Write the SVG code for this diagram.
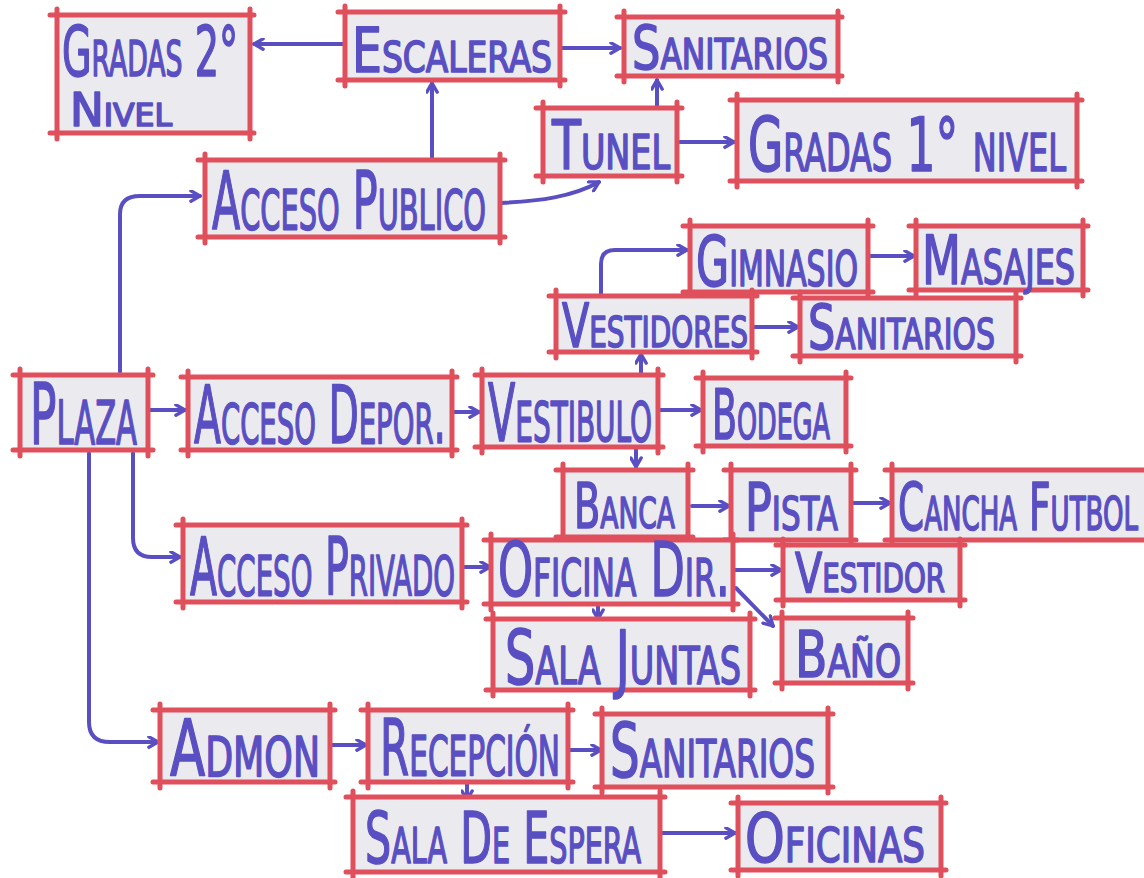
<svg xmlns="http://www.w3.org/2000/svg" width="1144" height="878" viewBox="0 0 1144 878">
<style>
.bg{fill:#ffffff}
.box{fill:#ebebef}
.edge{fill:none;stroke:#e0505c;stroke-width:5;stroke-linecap:round}
.t{font-family:"Liberation Sans Narrow","DejaVu Sans Condensed","Liberation Sans",sans-serif;font-variant:small-caps;fill:#5a4fc2;stroke:#5a4fc2;stroke-width:1.6;stroke-linejoin:round}
.c{fill:none;stroke:#5a4fc2;stroke-width:4;stroke-linecap:round;stroke-linejoin:round}
</style>
<defs>
<marker id="ah" viewBox="0 0 10 10" refX="8.5" refY="5" markerWidth="13" markerHeight="13" markerUnits="userSpaceOnUse" orient="auto">
<path d="M1.5,1 L8.5,5 L1.5,9" fill="none" stroke="#5a4fc2" stroke-width="2.6" stroke-linecap="round" stroke-linejoin="round"/>
</marker>
</defs>
<rect class="bg" x="0" y="0" width="1144" height="878"/>

<g id="connectors">
<path class="c" marker-end="url(#ah)" d="M343,44 H254"/>
<path class="c" marker-end="url(#ah)" d="M562,48 H620"/>
<path class="c" marker-end="url(#ah)" d="M432,158 V83"/>
<path class="c" marker-end="url(#ah)" d="M657,106 V80"/>
<path class="c" marker-end="url(#ah)" d="M680,142 H734"/>
<path class="c" marker-end="url(#ah)" d="M501,203 C540,201 572,197 599,182"/>
<path class="c" marker-end="url(#ah)" d="M120,372 V214 Q120,196 140,196 H200"/>
<path class="c" marker-end="url(#ah)" d="M150,410 H185"/>
<path class="c" marker-end="url(#ah)" d="M454,412 H479"/>
<path class="c" marker-end="url(#ah)" d="M641,373 V354"/>
<path class="c" marker-end="url(#ah)" d="M601,294 V264 Q601,250 615,250 H687"/>
<path class="c" marker-end="url(#ah)" d="M870,256 H914"/>
<path class="c" marker-end="url(#ah)" d="M754,327 H798"/>
<path class="c" marker-end="url(#ah)" d="M659,410 H701"/>
<path class="c" marker-end="url(#ah)" d="M636,447 V467"/>
<path class="c" marker-end="url(#ah)" d="M692,506 H729"/>
<path class="c" marker-end="url(#ah)" d="M853,503 H890"/>
<path class="c" marker-end="url(#ah)" d="M133,453 V538 Q133,557 152,557 H180"/>
<path class="c" marker-end="url(#ah)" d="M463,567 H490"/>
<path class="c" marker-end="url(#ah)" d="M734,570 H781"/>
<path class="c" marker-end="url(#ah)" d="M736,588 L773,626"/>
<path class="c" marker-end="url(#ah)" d="M598,605 V619"/>
<path class="c" marker-end="url(#ah)" d="M89,453 V722 Q89,742 110,742 H158"/>
<path class="c" marker-end="url(#ah)" d="M331,745 H366"/>
<path class="c" marker-end="url(#ah)" d="M569,750 H601"/>
<path class="c" marker-end="url(#ah)" d="M467,783 V800"/>
<path class="c" marker-end="url(#ah)" d="M661,833 H735"/>
</g>

<g id="gradas2">
<rect class="box" x="57" y="15" width="193" height="118"/>
<path class="edge" d="M50,15 H254 M50,133 H254 M57,9 V139 M250,9 V139"/>
<text class="t" x="62" y="76" font-size="70" textLength="176" lengthAdjust="spacingAndGlyphs">Gradas 2°</text>
<text class="t" x="70" y="126" font-size="46" textLength="102" lengthAdjust="spacingAndGlyphs">Nivel</text>
</g>
<g id="escaleras">
<rect class="box" x="345" y="12" width="215" height="68"/>
<path class="edge" d="M338,12 H565 M338,80 H565 M345,6 V86 M560,6 V86"/>
<text class="t" x="352" y="72" font-size="62" textLength="200" lengthAdjust="spacingAndGlyphs">Escaleras</text>
</g>
<g id="sanitarios1">
<rect class="box" x="624" y="17" width="214" height="59"/>
<path class="edge" d="M617,17 H842 M617,76 H842 M624,11 V82 M838,11 V82"/>
<text class="t" x="632" y="69" font-size="60" textLength="196" lengthAdjust="spacingAndGlyphs">Sanitarios</text>
</g>
<g id="tunel">
<rect class="box" x="543" y="108" width="134" height="68"/>
<path class="edge" d="M536,108 H682 M536,176 H682 M543,102 V182 M677,102 V182"/>
<text class="t" x="552" y="169" font-size="68" textLength="118" lengthAdjust="spacingAndGlyphs">Tunel</text>
</g>
<g id="gradas1">
<rect class="box" x="737" y="100" width="340" height="81"/>
<path class="edge" d="M730,100 H1082 M730,181 H1082 M737,94 V187 M1077,94 V187"/>
<text class="t" x="748" y="171" font-size="74" textLength="318" lengthAdjust="spacingAndGlyphs">Gradas 1° nivel</text>
</g>
<g id="accesoPublico">
<rect class="box" x="205" y="160" width="295" height="77"/>
<path class="edge" d="M198,160 H505 M198,237 H505 M205,154 V243 M500,154 V243"/>
<text class="t" x="212" y="229" font-size="80" textLength="274" lengthAdjust="spacingAndGlyphs">Acceso Publico</text>
</g>
<g id="gimnasio">
<rect class="box" x="690" y="226" width="178" height="66"/>
<path class="edge" d="M683,226 H873 M683,292 H873 M690,220 V298 M868,220 V298"/>
<text class="t" x="696" y="286" font-size="70" textLength="162" lengthAdjust="spacingAndGlyphs">Gimnasio</text>
</g>
<g id="masajes">
<rect class="box" x="916" y="226" width="167" height="64"/>
<path class="edge" d="M909,226 H1088 M909,290 H1088 M916,220 V296 M1083,220 V296"/>
<text class="t" x="922" y="284" font-size="68" textLength="153" lengthAdjust="spacingAndGlyphs">Masajes</text>
</g>
<g id="vestidores">
<rect class="box" x="556" y="296" width="196" height="56"/>
<path class="edge" d="M549,296 H757 M549,352 H757 M556,290 V358 M752,290 V358"/>
<text class="t" x="562" y="347" font-size="60" textLength="186" lengthAdjust="spacingAndGlyphs">Vestidores</text>
</g>
<g id="sanitarios2">
<rect class="box" x="800" y="298" width="216" height="58"/>
<path class="edge" d="M793,298 H1021 M793,356 H1021 M800,292 V362 M1016,292 V362"/>
<text class="t" x="808" y="349" font-size="62" textLength="187" lengthAdjust="spacingAndGlyphs">Sanitarios</text>
</g>
<g id="plaza">
<rect class="box" x="20" y="375" width="128" height="75"/>
<path class="edge" d="M13,375 H153 M13,450 H153 M20,369 V456 M148,369 V456"/>
<text class="t" x="30" y="444" font-size="86" textLength="107" lengthAdjust="spacingAndGlyphs">Plaza</text>
</g>
<g id="accesoDepor">
<rect class="box" x="188" y="377" width="264" height="73"/>
<path class="edge" d="M181,377 H457 M181,450 H457 M188,371 V456 M452,371 V456"/>
<text class="t" x="194" y="443" font-size="80" textLength="252" lengthAdjust="spacingAndGlyphs">Acceso Depor.</text>
</g>
<g id="vestibulo">
<rect class="box" x="482" y="375" width="176" height="72"/>
<path class="edge" d="M475,375 H663 M475,447 H663 M482,369 V453 M658,369 V453"/>
<text class="t" x="488" y="441" font-size="80" textLength="164" lengthAdjust="spacingAndGlyphs">Vestibulo</text>
</g>
<g id="bodega">
<rect class="box" x="703" y="378" width="143" height="68"/>
<path class="edge" d="M696,378 H851 M696,446 H851 M703,372 V452 M846,372 V452"/>
<text class="t" x="712" y="439" font-size="70" textLength="118" lengthAdjust="spacingAndGlyphs">Bodega</text>
</g>
<g id="banca">
<rect class="box" x="563" y="470" width="125" height="67"/>
<path class="edge" d="M556,470 H693 M556,537 H693 M563,464 V543 M688,464 V543"/>
<text class="t" x="574" y="528" font-size="62" textLength="101" lengthAdjust="spacingAndGlyphs">Banca</text>
</g>
<g id="pista">
<rect class="box" x="731" y="470" width="120" height="70"/>
<path class="edge" d="M724,470 H856 M724,540 H856 M731,464 V546 M851,464 V546"/>
<text class="t" x="745" y="530" font-size="66" textLength="93" lengthAdjust="spacingAndGlyphs">Pista</text>
</g>
<g id="cancha">
<rect class="box" x="892" y="470" width="270" height="70"/>
<path class="edge" d="M885,470 H1170 M885,540 H1170 M892,464 V546"/>
<text class="t" x="898" y="530" font-size="66" textLength="240" lengthAdjust="spacingAndGlyphs">Cancha Futbol</text>
</g>
<g id="accesoPrivado">
<rect class="box" x="183" y="525" width="279" height="77"/>
<path class="edge" d="M176,525 H467 M176,602 H467 M183,519 V608 M462,519 V608"/>
<text class="t" x="190" y="595" font-size="80" textLength="265" lengthAdjust="spacingAndGlyphs">Acceso Privado</text>
</g>
<g id="oficinaDir">
<rect class="box" x="491" y="540" width="242" height="64"/>
<path class="edge" d="M484,540 H738 M484,604 H738 M491,534 V610 M733,534 V610"/>
<text class="t" x="498" y="596" font-size="74" textLength="232" lengthAdjust="spacingAndGlyphs">Oficina Dir.</text>
</g>
<g id="vestidor">
<rect class="box" x="783" y="545" width="177" height="55"/>
<path class="edge" d="M776,545 H965 M776,600 H965 M783,539 V606 M960,539 V606"/>
<text class="t" x="795" y="592" font-size="56" textLength="150" lengthAdjust="spacingAndGlyphs">Vestidor</text>
</g>
<g id="salaJuntas">
<rect class="box" x="493" y="619" width="257" height="71"/>
<path class="edge" d="M486,619 H755 M486,690 H755 M493,613 V696 M750,613 V696"/>
<text class="t" x="505" y="684" font-size="74" textLength="236" lengthAdjust="spacingAndGlyphs">Sala Juntas</text>
</g>
<g id="bano">
<rect class="box" x="782" y="618" width="126" height="65"/>
<path class="edge" d="M775,618 H913 M775,683 H913 M782,612 V689 M908,612 V689"/>
<text class="t" x="795" y="677" font-size="64" textLength="106" lengthAdjust="spacingAndGlyphs">Baño</text>
</g>
<g id="admon">
<rect class="box" x="160" y="710" width="170" height="72"/>
<path class="edge" d="M153,710 H335 M153,782 H335 M160,704 V788 M330,704 V788"/>
<text class="t" x="170" y="776" font-size="78" textLength="150" lengthAdjust="spacingAndGlyphs">Admon</text>
</g>
<g id="recepcion">
<rect class="box" x="368" y="710" width="200" height="72"/>
<path class="edge" d="M361,710 H573 M361,782 H573 M368,704 V788 M568,704 V788"/>
<text class="t" x="380" y="775" font-size="78" textLength="180" lengthAdjust="spacingAndGlyphs">Recepción</text>
</g>
<g id="sanitarios3">
<rect class="box" x="602" y="714" width="226" height="73"/>
<path class="edge" d="M595,714 H833 M595,787 H833 M602,708 V793 M828,708 V793"/>
<text class="t" x="610" y="777" font-size="74" textLength="205" lengthAdjust="spacingAndGlyphs">Sanitarios</text>
</g>
<g id="salaEspera">
<rect class="box" x="353" y="797" width="307" height="75"/>
<path class="edge" d="M346,797 H665 M346,872 H665 M353,791 V878 M660,791 V878"/>
<text class="t" x="365" y="863" font-size="72" textLength="276" lengthAdjust="spacingAndGlyphs">Sala De Espera</text>
</g>
<g id="oficinas">
<rect class="box" x="738" y="803" width="203" height="67"/>
<path class="edge" d="M731,803 H946 M731,870 H946 M738,797 V876 M941,797 V876"/>
<text class="t" x="745" y="862" font-size="68" textLength="180" lengthAdjust="spacingAndGlyphs">Oficinas</text>
</g>
</svg>
